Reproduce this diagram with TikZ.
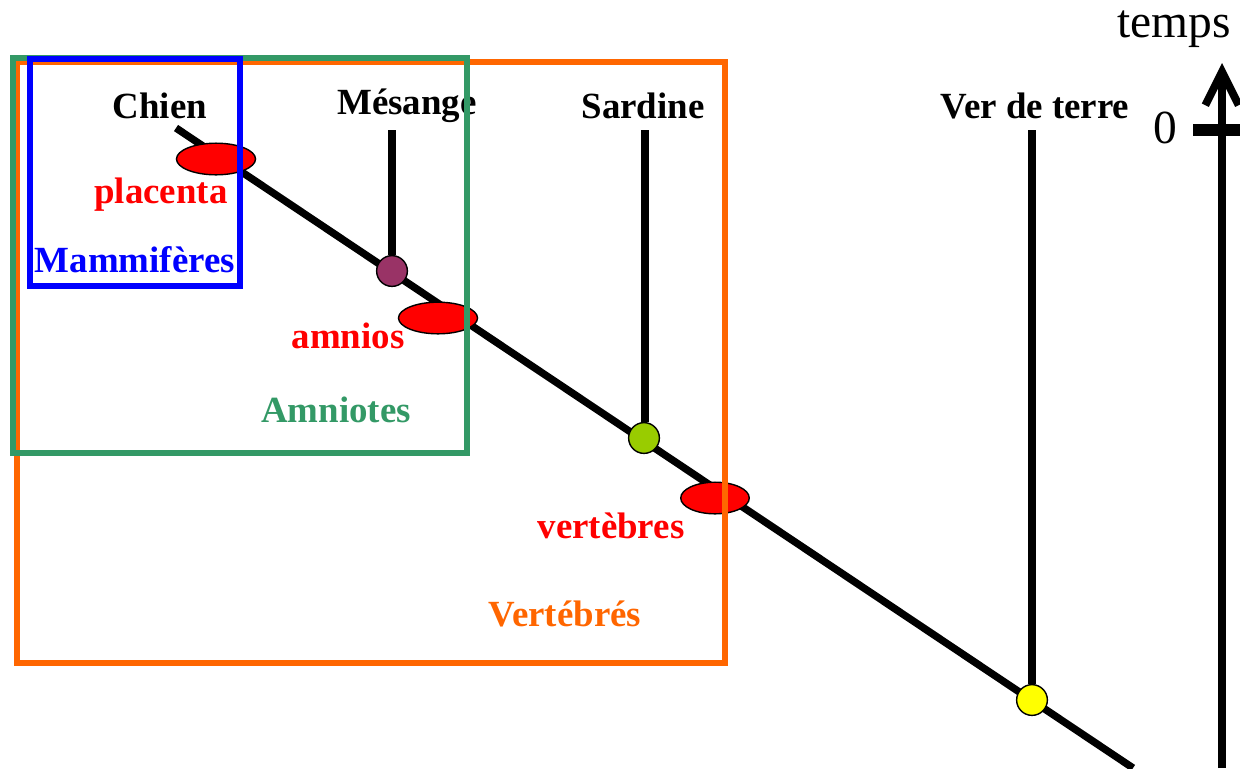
\documentclass[tikz,border=0pt]{standalone}
\usepackage{fontspec}
\setmainfont{Liberation Serif}
\usetikzlibrary{shapes.geometric,arrows.meta}
\definecolor{rouge}{RGB}{255,0,0}
\definecolor{bleu}{RGB}{0,0,255}
\definecolor{vert}{RGB}{51,153,102}
\definecolor{orange}{RGB}{255,102,0}
\definecolor{violet}{RGB}{153,51,102}
\definecolor{vertclair}{RGB}{153,204,0}
\definecolor{jaune}{RGB}{255,255,0}
\tikzset{
  taxon/.style={font=\fontsize{21}{25}\selectfont\bfseries},
  caractere/.style={ellipse, draw=black, line width=0.8pt, fill=rouge, inner sep=0pt},
  noeud/.style={circle, draw=black, line width=0.8pt, inner sep=0pt, minimum size=17.5pt},
  branche/.style={line width=4.2pt},
  groupe/.style={line width=3.4pt}
}
\begin{document}
\begin{tikzpicture}[x=0.02cm,y=-0.02cm]
    \useasboundingbox (0,0) rectangle (1240,768);
    % arbre
    \coordinate (chienT) at (176,128);
    \coordinate (racine) at (1133,768);
    \coordinate (mesT) at (392,130);
    \coordinate (sarT) at (645,130);
    \coordinate (verT) at (1032,130);
    \draw[branche] (chienT) -- (racine);
    \node[noeud, fill=violet] (mes) at (392,271) {};
    \node[noeud, fill=vertclair] (sar) at (644,438) {};
    \node[noeud, fill=jaune] (ver) at (1032,700) {};
    \draw[branche] (mesT) -- (mes.north);
    \draw[branche] (sarT) -- (sarT |- sar.north);
    \draw[branche] (verT) -- (ver.north);
    % caracteres
    \node[caractere, minimum width=45pt, minimum height=18pt] (placenta) at (216,159) {};
    \node[caractere, minimum width=45pt, minimum height=18pt] (amnios) at (438,318) {};
    \node[caractere, minimum width=39pt, minimum height=18pt] (vertebres) at (715,498) {};
    % noms
    \node[taxon] (chien) at (160,106) {Chien};
    \node[taxon] (mesange) at (407,106) {Mésange};
    \node[taxon] (sardine) at (643,106) {Sardine};
    \node[taxon] (verdeterre) at (1035,106) {Ver de terre};
    \node[taxon, text=rouge] (lplacenta) at (161,195) {placenta};
    \node[taxon, text=rouge] (lamnios) at (348,336) {amnios};
    \node[taxon, text=rouge] (lvertebres) at (611,526) {vertèbres};
    \node[taxon, text=bleu] (mammiferes) at (135,260) {Mammifères};
    \node[taxon, text=vert] (amniotes) at (336,410) {Amniotes};
    \node[taxon, text=orange] (vertebres) at (565,614) {Vertébrés};
    % groupes
    \draw[groupe, orange] (17,62) rectangle (725,663);
    \draw[groupe, vert] (13,58) rectangle (467,453);
    \draw[groupe, bleu] (30,59) rectangle (240,286);
    % temps
    \coordinate (tbas) at (1222,768);
    \coordinate (thaut) at (1222,63);
    \coordinate (zero) at (1222,130);
    \draw[line width=4.5pt, -{Straight Barb[length=19pt, width=19pt, line width=4.5pt]}] (tbas) -- (thaut);
    \draw[line width=6.8pt] ([xshift=-29*0.02cm]zero) -- ([xshift=18*0.02cm]zero);
    \node[font=\fontsize{27}{30}\selectfont] (lzero) at (1165,128) {0};
    \node[font=\fontsize{27}{30}\selectfont] (ltemps) at (1174,29) {temps};
\end{tikzpicture}
\end{document}
